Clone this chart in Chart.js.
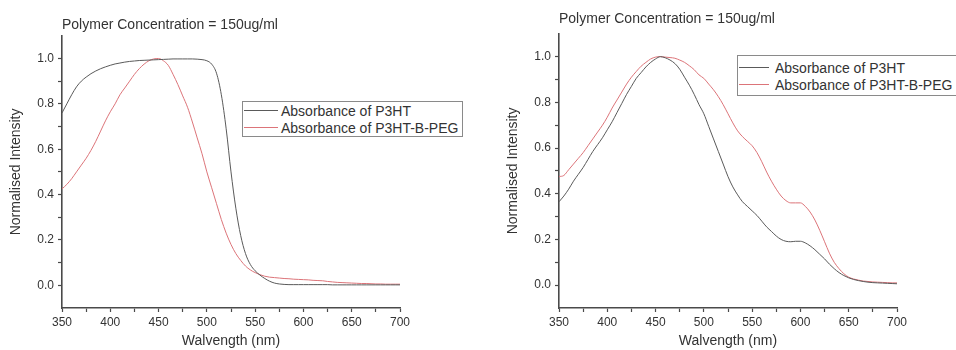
<!DOCTYPE html>
<html>
<head>
<meta charset="utf-8">
<script src="https://cdn.jsdelivr.net/npm/chart.js@4"></script>
<style>
  body { margin: 0; background: #fff; font-family: "Liberation Sans", Arial, sans-serif; }
  #wrap { position: relative; width: 956px; height: 350px; overflow: hidden; }
  .box { position: absolute; top: 0; height: 350px; }
  .legend { position: absolute; border: 1px solid #8a8a8a; background: #fff; font-size: 14px; color: #333; white-space: nowrap; }
  .legend div { display: flex; align-items: center; }
  .legend span.sw { display: inline-block; height: 1px; }
</style>
</head>
<body>
<div id="wrap">
  <div class="box" style="left:0;width:478px"><canvas id="c1"></canvas></div>
  <div class="box" style="left:497px;width:459px"><canvas id="c2"></canvas></div>
  <div class="legend" id="lg1" style="left:242px;top:101px;width:219px;padding:0"></div>
  <div class="legend" id="lg2" style="left:737px;top:55px;width:230px;padding:3px 0 2px 0"></div>
</div>
<script>
const titleText = "Polymer Concentration = 150ug/ml";
const seriesNames = ["Absorbance of P3HT", "Absorbance of P3HT-B-PEG"];
const lineColors = ["#5a5a5a", "#dc7479"];

// wavelength (nm)
const wavelengths = [350,355,360,365,370,375,380,385,390,395,400,405,410,415,420,425,430,435,440,445,
  450,455,460,465,470,475,480,485,490,495,500,505,510,515,520,525,530,535,540,545,
  550,555,560,565,570,575,580,585,590,595,600,605,610,615,620,625,630,635,640,645,
  650,655,660,665,670,675,680,685,690,695,700];

// left panel
const p3htLeft = [0.76,0.80,0.84,0.875,0.90,0.918,0.933,0.945,0.955,0.963,0.97,0.976,0.98,0.984,0.987,0.989,0.991,0.992,0.993,0.994,
  0.995,0.996,0.997,0.998,0.998,0.998,0.998,0.998,0.997,0.995,0.99,0.975,0.935,0.84,0.69,0.50,0.34,0.22,0.14,0.092,
  0.064,0.045,0.03,0.018,0.01,0.006,0.004,0.003,0.003,0.003,0.003,0.003,0.003,0.003,0.003,0.003,0.002,0.002,0.002,0.002,
  0.002,0.002,0.002,0.002,0.002,0.002,0.002,0.002,0.002,0.002,0.002];
const pegLeft = [0.425,0.445,0.47,0.50,0.53,0.56,0.595,0.635,0.68,0.725,0.765,0.80,0.84,0.87,0.90,0.93,0.955,0.975,0.99,0.998,
  1.0,0.99,0.97,0.93,0.885,0.835,0.785,0.72,0.65,0.58,0.50,0.43,0.36,0.29,0.23,0.18,0.14,0.11,0.085,0.068,
  0.056,0.047,0.04,0.036,0.034,0.032,0.03,0.029,0.027,0.026,0.025,0.024,0.022,0.021,0.02,0.017,0.015,0.013,0.012,0.011,
  0.01,0.009,0.008,0.008,0.007,0.006,0.006,0.005,0.005,0.005,0.005];

// right panel
const p3htRight = [0.365,0.39,0.42,0.455,0.485,0.515,0.55,0.585,0.615,0.645,0.68,0.715,0.755,0.795,0.835,0.87,0.905,0.93,0.955,0.975,
  0.99,1.0,0.995,0.985,0.97,0.945,0.91,0.875,0.835,0.79,0.75,0.695,0.64,0.585,0.53,0.475,0.43,0.395,0.365,0.345,
  0.325,0.305,0.28,0.255,0.235,0.215,0.20,0.192,0.19,0.192,0.192,0.185,0.172,0.155,0.135,0.115,0.092,0.072,0.055,0.042,
  0.032,0.025,0.02,0.016,0.013,0.011,0.01,0.009,0.008,0.007,0.006];
const pegRight = [0.475,0.48,0.505,0.53,0.555,0.58,0.61,0.64,0.67,0.70,0.735,0.775,0.81,0.845,0.88,0.91,0.935,0.958,0.975,0.99,
  0.998,1.0,0.998,0.996,0.993,0.985,0.975,0.96,0.943,0.92,0.905,0.88,0.855,0.825,0.79,0.75,0.71,0.675,0.65,0.63,
  0.61,0.58,0.54,0.495,0.455,0.42,0.39,0.37,0.36,0.36,0.36,0.345,0.32,0.285,0.24,0.19,0.14,0.10,0.072,0.05,
  0.035,0.027,0.022,0.018,0.016,0.014,0.013,0.012,0.011,0.01,0.01];

const font = "'Liberation Sans', Arial, sans-serif";
const axisColor = "#4a4a4a";
const textColor = "#333";

function makeChart(id, a, b, padRight, titlePad) {
  new Chart(document.getElementById(id), {
    type: "line",
    data: {
      labels: wavelengths,
      datasets: [
        { label: seriesNames[0], data: a, borderColor: lineColors[0], borderWidth: 1, pointRadius: 0, cubicInterpolationMode: "monotone" },
        { label: seriesNames[1], data: b, borderColor: lineColors[1], borderWidth: 1, pointRadius: 0, cubicInterpolationMode: "monotone" },
      ],
    },
    options: {
      responsive: true,
      maintainAspectRatio: false,
      animation: false,
      layout: { padding: { left: 0, right: padRight, top: 0, bottom: 0 } },
      plugins: {
        legend: { display: false },
        tooltip: { enabled: false },
        title: {
          display: true,
          text: titleText,
          align: "start",
          fullSize: false,
          color: textColor,
          font: { family: font, size: 14, weight: "normal" },
          padding: titlePad,
        },
      },
      scales: {
        x: {
          type: "linear",
          min: 350,
          max: 700,
          afterFit: (s) => { s.height = 42; },
          border: { display: true, color: axisColor, width: 1.6 },
          grid: { drawOnChartArea: false, drawTicks: true, tickLength: 4, tickColor: axisColor, tickWidth: 1.2 },
          ticks: {
            stepSize: 25,
            autoSkip: false,
            maxRotation: 0,
            padding: 3,
            color: textColor,
            font: { family: font, size: 12 },
            callback: (v) => (v % 50 === 0 ? String(v) : ""),
          },
          title: {
            display: true,
            text: "Walvength (nm)",
            color: textColor,
            font: { family: font, size: 14 },
            padding: { top: 0, bottom: 0 },
          },
        },
        y: {
          min: -0.1,
          max: 1.1,
          afterFit: (s) => { s.width = 62; },
          border: { display: true, color: axisColor, width: 1.6 },
          grid: {
            drawOnChartArea: false,
            drawTicks: true,
            tickLength: 4,
            tickWidth: 1.2,
            tickColor: (ctx) => {
              const k = Math.round(ctx.tick.value * 10);
              return k < 0 || k > 10 ? "rgba(0,0,0,0)" : axisColor;
            },
          },
          ticks: {
            stepSize: 0.1,
            autoSkip: false,
            padding: 4,
            color: textColor,
            font: { family: font, size: 12 },
            callback: (v) => {
              const k = Math.round(v * 10);
              return k >= 0 && k <= 10 && k % 2 === 0 ? (k / 10).toFixed(1) : "";
            },
          },
          title: {
            display: true,
            text: "Normalised Intensity",
            color: textColor,
            font: { family: font, size: 14 },
            padding: { top: 8, bottom: 0 },
          },
        },
      },
    },
  });
}

makeChart("c1", p3htLeft, pegLeft, 78, { top: 17, bottom: 2 });
makeChart("c2", p3htRight, pegRight, 59, { top: 11, bottom: 6 });

function fillLegend(id, swWidth, gap, rowH) {
  const el = document.getElementById(id);
  seriesNames.forEach((name, i) => {
    const row = document.createElement("div");
    row.style.height = rowH + "px";
    const sw = document.createElement("span");
    sw.className = "sw";
    sw.style.width = swWidth + "px";
    sw.style.marginLeft = "1px";
    sw.style.marginRight = gap + "px";
    sw.style.background = lineColors[i];
    row.appendChild(sw);
    row.appendChild(document.createTextNode(name));
    el.appendChild(row);
  });
}
fillLegend("lg1", 34, 3, 17);
fillLegend("lg2", 30, 6, 17);
</script>
</body>
</html>
